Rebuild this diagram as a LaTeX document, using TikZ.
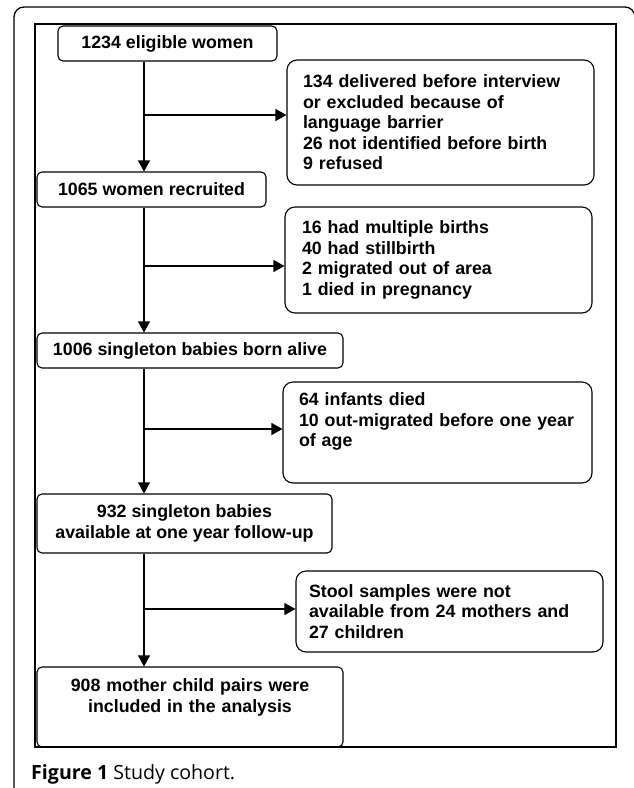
\documentclass[tikz,border=0pt]{standalone}
\usepackage{fontspec}
\setmainfont{Liberation Sans}
\newfontfamily\capfont{Open Sans}
\usetikzlibrary{arrows.meta}

\tikzset{
  boxfont/.style={font=\bfseries\fontsize{17.8}{20.5}\selectfont},
  mainbox/.style={draw, line width=1.1pt, rounded corners=5pt, align=center, boxfont, inner xsep=5pt, inner ysep=0pt},
  exbox/.style={draw, line width=1.1pt, rounded corners=10pt, align=left, boxfont, inner ysep=0pt},
  arr/.style={line width=1.1pt, -{Triangle[length=11pt,width=12pt]}}
}

\begin{document}
\begin{tikzpicture}[x=1pt, y=-1pt]

\useasboundingbox (0,0) rectangle (633,788);

% frames
\draw [line width=1.3pt, rounded corners=10pt] (14,800) -- (14,7) -- (635,7) -- (635,800);
\draw [line width=1.3pt] (35,24) rectangle (616,747);

% main column
\node [mainbox, minimum width=219pt, minimum height=35pt] (eligible) at (167.5,43.5) {1234 eligible women};
\node [mainbox, minimum width=229pt, minimum height=35pt] (recruited) at (151.5,189.5) {1065 women recruited};
\node [mainbox, minimum width=306pt, minimum height=35pt] (born) at (190,350.5) {1006 singleton babies born alive};
\node [mainbox, minimum width=295pt, minimum height=59pt] (followup) at (184.5,523.5) {932 singleton babies\\available at one year follow-up};
\node [mainbox, text width=296pt, minimum height=80pt, text depth=43pt] (pairs) at (190,707) {908 mother child pairs were\\included in the analysis};

% exclusions
\node [exbox, inner xsep=16pt, text width=275pt, minimum height=125pt] (excl1) at (440.5,122.5)
  {134 delivered before interview\\or excluded because of\\language barrier\\26 not identified before birth\\9 refused};
\node [exbox, inner xsep=17pt, text width=273pt, minimum height=106pt] (excl2) at (438.5,260)
  {16 had multiple births\\40 had stillbirth\\2 migrated out of area\\1 died in pregnancy};
\node [exbox, inner xsep=16pt, text width=277pt, minimum height=101pt, text depth=66pt] (excl3) at (437.5,432.5)
  {64 infants died\\10 out-migrated before one year\\of age};
\node [exbox, inner xsep=13pt, text width=281pt, minimum height=81pt] (excl4) at (449.5,611.5)
  {Stool samples were not\\available from 24 mothers and\\27 children};

% spine and branches
\coordinate (spine) at (144,0);
\coordinate (br1) at (144,115);
\coordinate (br2) at (144,266);
\coordinate (br3) at (144,429);
\coordinate (br4) at (144,609);

\draw [arr] (eligible.south -| spine) -- (recruited.north -| spine);
\draw [arr] (recruited.south -| spine) -- (born.north -| spine);
\draw [arr] (born.south -| spine) -- (followup.north -| spine);
\draw [arr] (followup.south -| spine) -- (pairs.north -| spine);

\draw [arr] (br1) -- (br1 -| excl1.west);
\draw [arr] (br2) -- (br2 -| excl2.west);
\draw [arr] (br3) -- (br3 -| excl3.west);
\draw [arr] (br4) -- (br4 -| excl4.west);

% caption
\node [anchor=base west, inner sep=0pt, font=\capfont\fontsize{19.6}{22}\selectfont] (caption) at (31,779) {\textbf{Figure 1} Study cohort.};

\end{tikzpicture}
\end{document}
